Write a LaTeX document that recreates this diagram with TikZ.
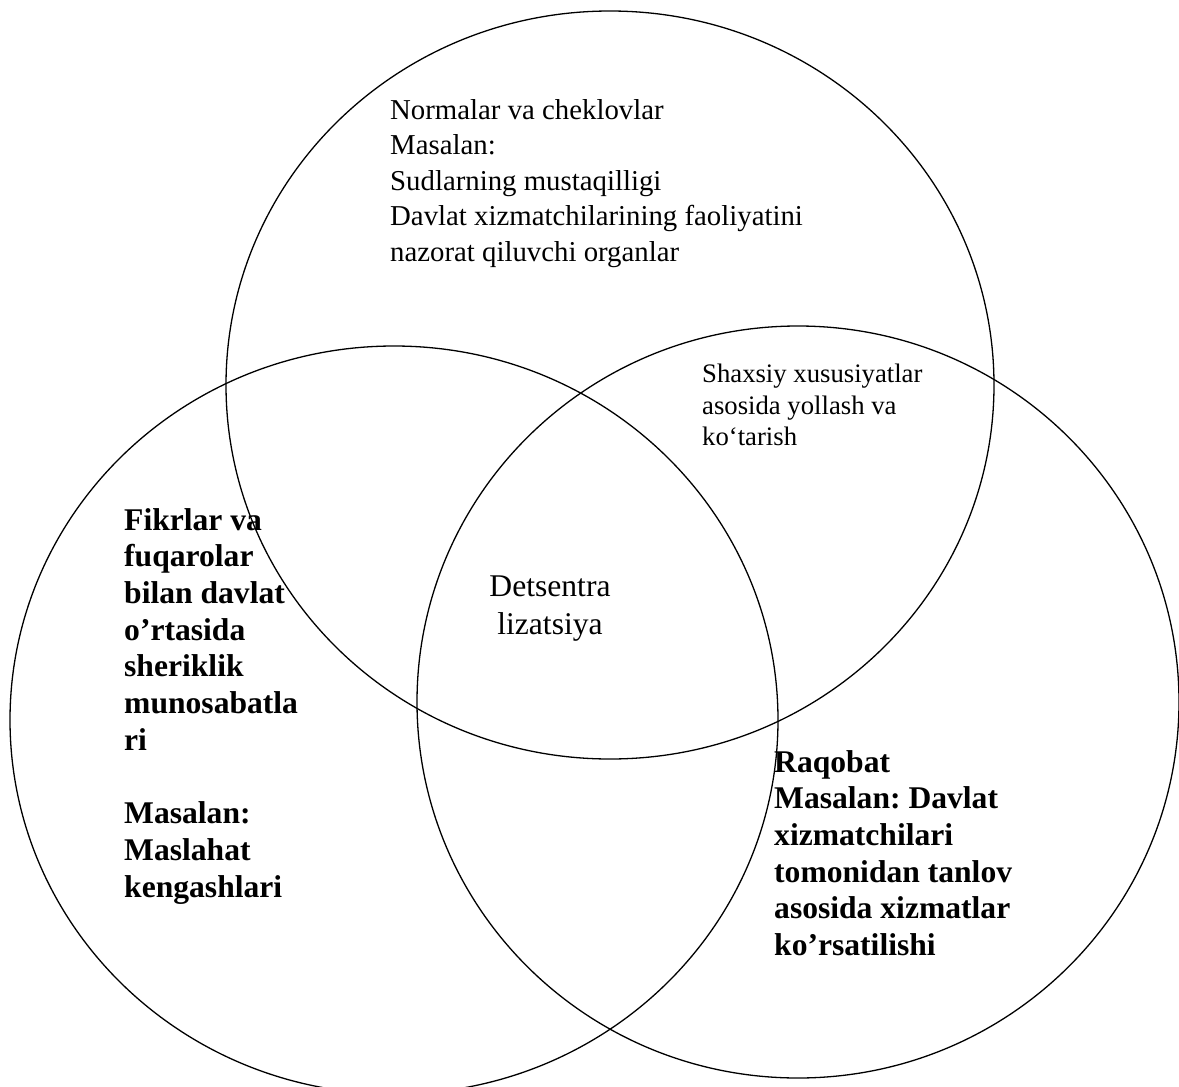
\documentclass[tikz,border=0pt]{standalone}
\usepackage{fontspec}
\setmainfont{Liberation Serif}
\usetikzlibrary{shapes.geometric}
\frenchspacing
\begin{document}
\begin{tikzpicture}[x=1pt,y=-1pt,
  ring/.style={draw=black,line width=1.3pt,ellipse,inner sep=0pt},
  bigbold/.style={inner sep=0pt,align=left,font=\fontsize{31.6}{36.7}\selectfont\bfseries\frenchspacing},
  toptext/.style={inner sep=0pt,align=left,font=\fontsize{28.8}{35.5}\selectfont},
  midtext/.style={inner sep=0pt,align=center,font=\fontsize{31.6}{38}\selectfont},
  smalltext/.style={inner sep=0pt,align=left,font=\fontsize{26.7}{31.5}\selectfont}]
\useasboundingbox (0,0) rectangle (1179,1087);
\clip (0,0) rectangle (1179,1087);
\fill[white] (0,0) rectangle (1179,1087);
% circles
\node[ring,minimum width=768pt,minimum height=748pt] (ctop) at (610,385) {};
\node[ring,minimum width=768pt,minimum height=748pt] (cleft) at (394,720) {};
\node[ring,minimum width=762pt,minimum height=752pt] (cright) at (798,702) {};
% texts
\node[toptext,anchor=north west] (norm) at (390,99) {Normalar va cheklovlar\\Masalan:\\Sudlarning mustaqilligi\\Davlat xizmatchilarining faoliyatini\\nazorat qiluvchi organlar};
\node[smalltext,anchor=north west] (shax) at (702,364) {Shaxsiy xususiyatlar\\asosida yollash va\\ko‘tarish};
\node[midtext,anchor=center] (dets) at (550,609) {Detsentra\\lizatsiya};
\node[bigbold,anchor=north west] (fikr) at (124,508) {Fikrlar va\\fuqarolar\\bilan davlat\\o’rtasida\\sheriklik\\munosabatla\\ri\\\mbox{}\\Masalan:\\Maslahat\\kengashlari};
\node[bigbold,anchor=north west] (raq) at (774,750) {Raqobat\\Masalan: Davlat\\xizmatchilari\\tomonidan tanlov\\asosida xizmatlar\\ko’rsatilishi};
\end{tikzpicture}
\end{document}
